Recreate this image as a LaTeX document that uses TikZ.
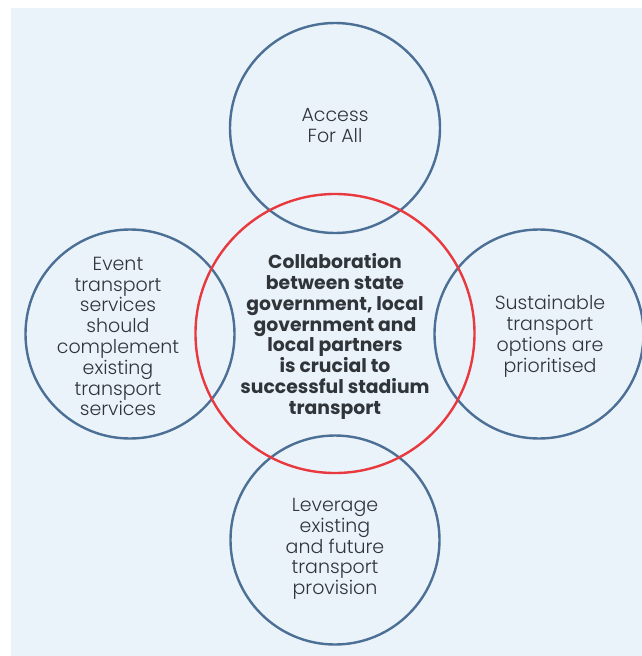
\documentclass[tikz,border=0pt]{standalone}
\usepackage{fontspec}
\setmainfont{Poppins}
\newfontfamily\lightfont{Poppins Light}
\begin{document}
\pgfdeclarelayer{fills}
\pgfsetlayers{fills,main}
\definecolor{pagebg}{HTML}{EBF3FA}
\definecolor{outerfill}{HTML}{E6F5FE}
\definecolor{innerfill}{HTML}{FEF3FA}
\definecolor{ringblue}{HTML}{4B6F95}
\definecolor{ringred}{HTML}{E8393E}
\definecolor{ink}{HTML}{30353A}
\begin{tikzpicture}[x=1pt,y=-1pt,
  ring/.style={circle,draw=ringblue,line width=2.4pt,inner sep=0pt,outer sep=0pt},
  core/.style={circle,draw=ringred,line width=2.4pt,inner sep=0pt,outer sep=0pt},
  label/.style={align=center,text=ink,inner sep=0pt,
    font=\fontsize{19}{20.8}\selectfont\lightfont},
  corelabel/.style={label,font=\fontsize{18.8}{20.8}\selectfont\bfseries}]
\useasboundingbox (0,0) rectangle (642,656);
\fill[pagebg] (11,8) rectangle (642,656);
% circle centres
\coordinate (ct) at (335,128);
\coordinate (cl) at (130,334);
\coordinate (cr) at (539,334);
\coordinate (cb) at (335,540);
\coordinate (cc) at (335,333.5);
% fills: the core sits over the outer discs
\begin{pgfonlayer}{fills}
  \fill[outerfill] (ct) circle (105);
  \fill[outerfill] (cl) circle (104.5);
  \fill[outerfill] (cr) circle (104.5);
  \fill[outerfill] (cb) circle (104.5);
  \fill[innerfill] (cc) circle (139.5);
\end{pgfonlayer}
% outlines
\node[ring,minimum size=210pt] (top) at (ct) {};
\node[ring,minimum size=209pt] (left) at (cl) {};
\node[ring,minimum size=209pt] (right) at (cr) {};
\node[ring,minimum size=209pt] (bottom) at (cb) {};
\node[core,minimum size=279pt] (core) at (cc) {};
% texts
\node[label] (ttop) at (335,125.5) {Access\\For All};
\node[label] (tleft) at (118,336.5) {Event\\transport\\services\\should\\complement\\existing\\transport\\services};
\node[label] (tright) at (550,336.5) {Sustainable\\transport\\options are\\prioritised};
\node[label] (tbottom) at (335,549) {Leverage\\existing\\and future\\transport\\provision};
\node[corelabel] (tcore) at (335,336.5) {Collaboration\\between state\\government, local\\government and\\local partners\\is crucial to\\successful stadium\\transport};
\end{tikzpicture}
\end{document}
